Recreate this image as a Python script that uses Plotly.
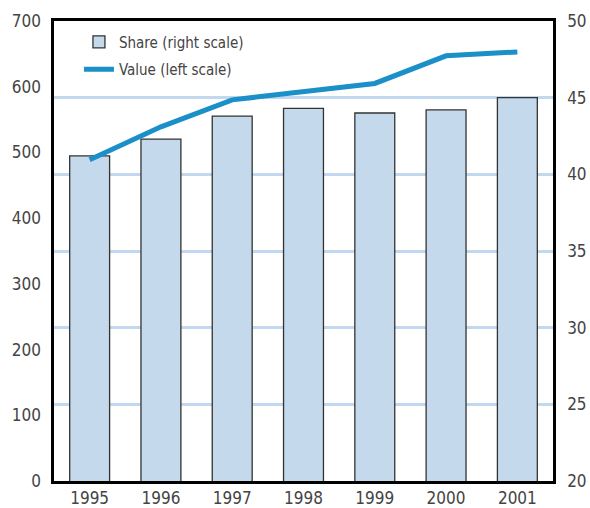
import plotly.graph_objects as go

years = ["1995", "1996", "1997", "1998", "1999", "2000", "2001"]
share_right = [41.2, 42.3, 43.8, 44.3, 44.0, 44.2, 45.0]
value_left = [489, 539, 580, 593, 605, 647, 653]

left_ticks = [0, 100, 200, 300, 400, 500, 600, 700]
right_ticks = [20, 25, 30, 35, 40, 45, 50]

FONT = "DejaVu Sans Condensed, Liberation Sans Narrow, sans-serif"
TXT = "#444444"

fig = go.Figure()
fig.add_trace(go.Bar(
    x=years, y=share_right, name="Share (right scale)", yaxis="y",
    legendgroup="a",
    marker=dict(color="#c5d9ec", line=dict(color="#333333", width=1.3)),
))
fig.add_trace(go.Scatter(
    x=years, y=value_left, name="Value (left scale)", yaxis="y2",
    legendgroup="b",
    mode="lines", line=dict(color="#1a8fc8", width=5),
))

fig.update_layout(
    width=590, height=508,
    margin=dict(l=54, r=37, t=21, b=27, autoexpand=False),
    paper_bgcolor="white", plot_bgcolor="white",
    font=dict(family=FONT, size=17, color=TXT),
    bargap=0.44,
    showlegend=True,
    legend=dict(x=0.05, y=0.99, xanchor="left", yanchor="top",
                bgcolor="rgba(0,0,0,0)", font=dict(size=15, color=TXT),
                traceorder="grouped", tracegroupgap=5),
    xaxis=dict(showline=True, linecolor="black", linewidth=2.5, mirror=True,
               ticks="", showgrid=False, ticklabelstandoff=0, automargin=False),
    yaxis=dict(side="right", range=[20, 50], tickvals=right_ticks,
               showgrid=True, gridcolor="#c2d8ee", gridwidth=2.5,
               showline=True, linecolor="black", linewidth=2.5, mirror=True,
               ticks="", ticklabelstandoff=8, zeroline=False, automargin=False),
    yaxis2=dict(side="left", overlaying="y", range=[0, 700], tickvals=left_ticks,
                showgrid=False, showline=False, ticks="", ticklabelstandoff=12,
                zeroline=False, automargin=False),
)

fig.write_html("out.html",
               config={"displayModeBar": False},
               post_script="document.body.style.margin='0';document.body.style.padding='0';")
